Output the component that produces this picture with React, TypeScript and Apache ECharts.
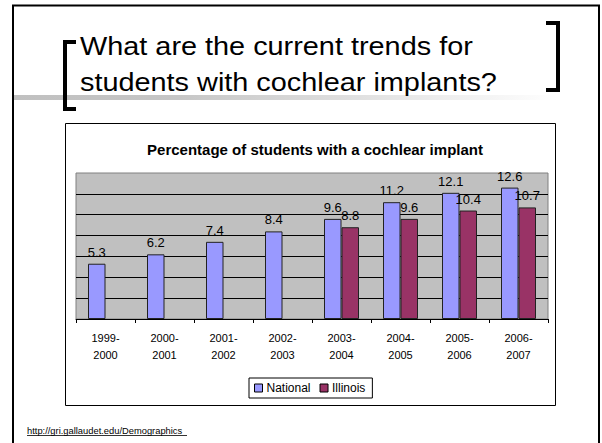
import React, { useEffect, useRef } from "react";
import * as echarts from "echarts";

const categories = ["1999-\n2000", "2000-\n2001", "2001-\n2002", "2002-\n2003", "2003-\n2004", "2004-\n2005", "2005-\n2006", "2006-\n2007"];
const national = [5.3, 6.2, 7.4, 8.4, 9.6, 11.2, 12.1, 12.6];
const illinois = [null, null, null, null, 8.8, 9.6, 10.4, 10.7];
const seriesNames = ["National", "Illinois"];
const slideTitle = ["What are the current trends for", "students with cochlear implants?"];
const chartTitle = "Percentage of students with a cochlear implant";
const sourceLink = "http://gri.gallaudet.edu/Demographics";

const FONT = "'Liberation Sans', Arial, sans-serif";

export default function App() {
  const ref = useRef<HTMLDivElement>(null);
  useEffect(() => {
    if (!ref.current) return;
    const chart = echarts.init(ref.current, null, { renderer: "svg" });
    const labelCfg = {
      show: true,
      position: "top",
      distance: 5,
      color: "#000",
      fontSize: 13,
      fontFamily: FONT,
    };
    chart.setOption({
      animation: false,
      backgroundColor: "#fff",
      textStyle: { fontFamily: FONT },
      title: {
        text: chartTitle,
        left: 310,
        textAlign: "center",
        top: 137,
        textStyle: { fontSize: 15, fontWeight: "bold", color: "#000", fontFamily: FONT },
      },
      grid: {
        left: 76,
        top: 173,
        width: 472,
        height: 146,
        show: true,
        backgroundColor: "#C0C0C0",
        borderColor: "#808080",
        borderWidth: 1,
      },
      legend: {
        data: seriesNames,
        left: 249,
        top: 378,
        orient: "horizontal",
        icon: "rect",
        itemWidth: 8,
        itemHeight: 8,
        itemGap: 9,
        padding: [4, 7, 4, 5],
        borderColor: "#000",
        borderWidth: 1,
        textStyle: { fontSize: 12, color: "#000", fontFamily: FONT, padding: [0, 0, 0, -1] },
        itemStyle: { borderColor: "#000", borderWidth: 1 },
      },
      xAxis: {
        type: "category",
        data: categories,
        axisLine: { show: true, lineStyle: { color: "#000", width: 1 } },
        axisTick: { show: true, length: 4, lineStyle: { color: "#000" } },
        axisLabel: { color: "#000", fontSize: 11, lineHeight: 17, margin: 10, fontFamily: FONT, interval: 0 },
      },
      yAxis: {
        type: "value",
        min: 0,
        max: 14,
        interval: 2,
        axisLine: { show: false },
        axisTick: { show: false },
        axisLabel: { show: false },
        splitLine: { show: true, showMaxLine: false, lineStyle: { color: "#000", width: 1 } },
      },
      series: [
        {
          name: seriesNames[0],
          type: "bar",
          data: national,
          barWidth: 17.5,
          barGap: "0%",
          itemStyle: { color: "#9999FF", borderColor: "#222", borderWidth: 1 },
          label: labelCfg,
        },
        {
          name: seriesNames[1],
          type: "bar",
          data: illinois,
          barWidth: 17.5,
          barGap: "0%",
          itemStyle: { color: "#993366", borderColor: "#222", borderWidth: 1 },
          label: labelCfg,
        },
      ],
      graphic: [
        // slide border
        { type: "rect", shape: { x: 13, y: 5.5, width: 586, height: 500 }, style: { fill: "none", stroke: "#000", lineWidth: 2 }, silent: true },
        // grey rule under the slide title
        {
          type: "rect",
          shape: { x: 14, y: 95, width: 546, height: 5 },
          style: {
            fill: new echarts.graphic.LinearGradient(0, 0, 1, 0, [
              { offset: 0, color: "#C0C0C0" },
              { offset: 0.3, color: "#C6C6C6" },
              { offset: 0.65, color: "#E2E2E2" },
              { offset: 1, color: "#FFFFFF" },
            ]),
          },
          silent: true,
        },
        // left bracket
        { type: "rect", shape: { x: 63, y: 40, width: 4, height: 71 }, style: { fill: "#000" }, silent: true },
        { type: "rect", shape: { x: 63, y: 40, width: 13, height: 4 }, style: { fill: "#000" }, silent: true },
        { type: "rect", shape: { x: 63, y: 107, width: 13, height: 4 }, style: { fill: "#000" }, silent: true },
        // right bracket
        { type: "rect", shape: { x: 556, y: 21, width: 4, height: 71 }, style: { fill: "#000" }, silent: true },
        { type: "rect", shape: { x: 546, y: 21, width: 14, height: 4 }, style: { fill: "#000" }, silent: true },
        { type: "rect", shape: { x: 546, y: 88, width: 14, height: 4 }, style: { fill: "#000" }, silent: true },
        // slide title
        {
          type: "text",
          x: 80,
          y: 46.5,
          scaleX: 1.11,
          style: { text: slideTitle[0], font: `26px ${FONT}`, fill: "#000", verticalAlign: "middle" },
          silent: true,
        },
        {
          type: "text",
          x: 80,
          y: 82,
          scaleX: 1.11,
          style: { text: slideTitle[1], font: `26px ${FONT}`, fill: "#000", verticalAlign: "middle" },
          silent: true,
        },
        // chart box
        { type: "rect", shape: { x: 65.5, y: 123.5, width: 490, height: 282 }, style: { fill: "none", stroke: "#000", lineWidth: 1 }, silent: true, z: -1 },
        // source link
        {
          type: "text",
          x: 27,
          y: 431,
          scaleX: 1.1,
          style: { text: sourceLink, font: `8.5px ${FONT}`, fill: "#000", verticalAlign: "middle" },
          silent: true,
        },
        { type: "line", shape: { x1: 27, y1: 435.5, x2: 187, y2: 435.5 }, style: { stroke: "#000", lineWidth: 0.8 }, silent: true },
      ],
    });
    return () => chart.dispose();
  }, []);
  return <div ref={ref} style={{ position: "absolute", left: 0, top: 0, width: 602, height: 443 }} />;
}
